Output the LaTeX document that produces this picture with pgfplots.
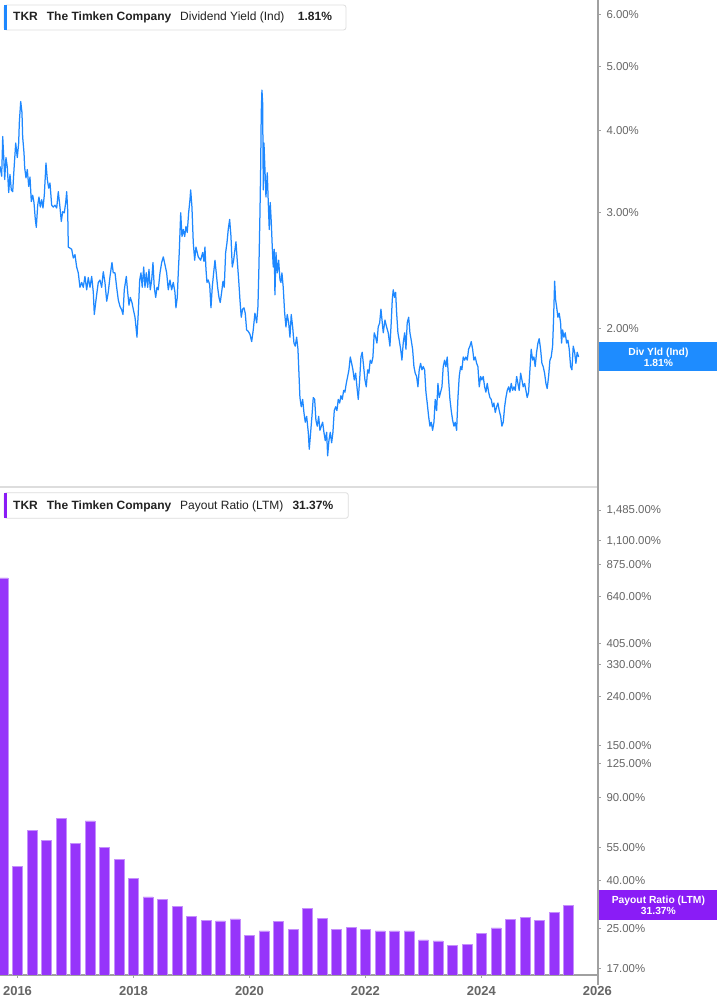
\documentclass[border=0pt]{standalone}
\usepackage{pgfplots}
\usepackage{pgfplotstable}
\pgfplotsset{compat=1.18}
\usepackage{fontspec}
\setmainfont{Liberation Sans}
\definecolor{lineblue}{HTML}{1E88FF}
\definecolor{boxblue}{HTML}{1E8CFF}
\definecolor{barpurple}{HTML}{9634FA}
\definecolor{boxpurple}{HTML}{8A1CF6}
\definecolor{axgray}{HTML}{A0A0A0}
\definecolor{tickgray}{HTML}{666666}
\definecolor{sepgray}{HTML}{DDDDDD}
\definecolor{hdrtext}{HTML}{222222}

\pgfplotstableread{
x y
2015.698 3.53
2015.727 3.41
2015.745 3.92
2015.767 3.57
2015.779 3.37
2015.801 3.64
2015.824 3.52
2015.848 3.22
2015.870 3.43
2015.893 3.25
2015.917 3.23
2015.939 3.49
2015.969 3.83
2015.996 3.64
2016.020 3.83
2016.031 4.11
2016.055 4.43
2016.077 4.26
2016.089 3.91
2016.112 3.70
2016.124 3.51
2016.146 3.39
2016.169 3.49
2016.193 3.29
2016.215 3.40
2016.238 3.12
2016.262 3.19
2016.284 3.11
2016.307 2.93
2016.324 2.85
2016.348 3.08
2016.370 3.17
2016.393 3.06
2016.417 3.14
2016.439 3.05
2016.462 3.19
2016.491 3.57
2016.514 3.37
2016.538 3.27
2016.560 3.33
2016.589 3.08
2016.617 3.06
2016.646 3.08
2016.676 3.05
2016.703 3.23
2016.732 3.06
2016.755 2.91
2016.779 3.01
2016.807 3.00
2016.831 3.11
2016.848 3.23
2016.865 3.03
2016.876 2.66
2016.905 2.65
2016.934 2.64
2016.962 2.56
2016.991 2.59
2017.020 2.48
2017.048 2.43
2017.077 2.31
2017.107 2.35
2017.134 2.31
2017.163 2.40
2017.193 2.29
2017.220 2.39
2017.250 2.31
2017.279 2.40
2017.307 2.27
2017.324 2.10
2017.348 2.19
2017.370 2.27
2017.393 2.35
2017.422 2.37
2017.451 2.31
2017.479 2.44
2017.508 2.35
2017.538 2.20
2017.565 2.27
2017.595 2.40
2017.629 2.52
2017.651 2.43
2017.681 2.43
2017.710 2.31
2017.738 2.21
2017.767 2.16
2017.796 2.135
2017.819 2.10
2017.841 2.29
2017.876 2.40
2017.900 2.27
2017.922 2.17
2017.945 2.23
2017.974 2.19
2017.996 2.14
2018.026 2.08
2018.043 2.01
2018.060 1.94
2018.082 2.11
2018.107 2.37
2018.129 2.43
2018.151 2.31
2018.176 2.48
2018.198 2.31
2018.220 2.43
2018.245 2.31
2018.267 2.46
2018.289 2.29
2018.314 2.37
2018.336 2.52
2018.358 2.31
2018.383 2.23
2018.405 2.31
2018.427 2.29
2018.457 2.43
2018.486 2.52
2018.514 2.57
2018.543 2.50
2018.572 2.43
2018.600 2.29
2018.629 2.37
2018.658 2.29
2018.686 2.35
2018.715 2.27
2018.732 2.15
2018.755 2.23
2018.772 2.43
2018.789 2.61
2018.814 3.00
2018.836 2.76
2018.858 2.83
2018.883 2.76
2018.905 2.86
2018.927 2.80
2018.951 3.00
2018.974 3.14
2018.986 3.25
2019.008 3.06
2019.031 2.70
2019.055 2.54
2019.077 2.66
2019.117 2.57
2019.158 2.54
2019.193 2.61
2019.215 2.53
2019.232 2.66
2019.250 2.46
2019.267 2.35
2019.289 2.37
2019.314 2.33
2019.336 2.15
2019.358 2.31
2019.382 2.43
2019.405 2.54
2019.427 2.43
2019.451 2.31
2019.474 2.23
2019.496 2.19
2019.520 2.27
2019.543 2.36
2019.565 2.31
2019.589 2.61
2019.612 2.70
2019.634 2.83
2019.658 2.93
2019.681 2.76
2019.703 2.48
2019.727 2.54
2019.750 2.64
2019.767 2.71
2019.789 2.54
2019.814 2.37
2019.836 2.21
2019.858 2.08
2019.882 2.14
2019.905 2.15
2019.927 2.11
2019.951 1.99
2019.979 1.98
2020.008 1.96
2020.038 1.91
2020.065 1.99
2020.094 2.11
2020.124 2.04
2020.146 2.16
2020.163 2.48
2020.181 3.00
2020.193 3.52
2020.203 4.26
2020.215 4.61
2020.227 4.41
2020.238 3.25
2020.250 3.83
2020.267 3.49
2020.284 3.17
2020.307 3.45
2020.324 3.11
2020.341 2.83
2020.358 3.11
2020.376 2.90
2020.393 2.66
2020.410 2.48
2020.427 2.64
2020.439 2.25
2020.457 2.61
2020.479 2.43
2020.503 2.54
2020.526 2.37
2020.543 2.35
2020.560 2.43
2020.582 2.31
2020.607 2.11
2020.629 2.01
2020.651 2.10
2020.676 2.04
2020.698 1.94
2020.720 2.10
2020.745 2.01
2020.767 1.90
2020.789 1.88
2020.813 1.94
2020.836 1.86
2020.853 1.71
2020.870 1.57
2020.893 1.52
2020.917 1.56
2020.939 1.49
2020.962 1.44
2020.986 1.47
2021.014 1.39
2021.031 1.31
2021.055 1.39
2021.077 1.47
2021.100 1.57
2021.124 1.56
2021.146 1.45
2021.169 1.42
2021.193 1.47
2021.215 1.40
2021.238 1.42
2021.262 1.44
2021.284 1.39
2021.307 1.35
2021.331 1.39
2021.348 1.28
2021.370 1.35
2021.393 1.39
2021.417 1.34
2021.439 1.39
2021.462 1.50
2021.486 1.52
2021.508 1.50
2021.531 1.56
2021.555 1.54
2021.577 1.58
2021.600 1.56
2021.624 1.61
2021.646 1.60
2021.669 1.65
2021.693 1.69
2021.715 1.73
2021.738 1.81
2021.762 1.77
2021.784 1.73
2021.807 1.67
2021.831 1.71
2021.853 1.63
2021.876 1.56
2021.900 1.67
2021.922 1.81
2021.944 1.84
2021.969 1.75
2021.991 1.67
2022.014 1.63
2022.038 1.73
2022.060 1.71
2022.082 1.79
2022.107 1.77
2022.129 1.81
2022.151 1.97
2022.176 1.94
2022.198 1.90
2022.220 2.01
2022.245 2.04
2022.267 2.14
2022.307 1.97
2022.336 2.06
2022.365 2.01
2022.393 1.97
2022.422 1.88
2022.444 2.04
2022.462 2.21
2022.479 2.29
2022.503 2.23
2022.520 2.27
2022.538 2.11
2022.560 1.97
2022.582 1.92
2022.607 1.86
2022.629 1.79
2022.651 1.90
2022.676 1.97
2022.698 1.86
2022.720 2.04
2022.745 2.08
2022.767 1.97
2022.789 1.92
2022.813 1.86
2022.836 1.75
2022.858 1.71
2022.882 1.69
2022.905 1.63
2022.927 1.73
2022.951 1.77
2022.974 1.73
2022.996 1.75
2023.020 1.73
2023.043 1.60
2023.065 1.54
2023.089 1.47
2023.112 1.42
2023.134 1.44
2023.158 1.40
2023.181 1.44
2023.203 1.56
2023.227 1.50
2023.250 1.65
2023.272 1.57
2023.296 1.60
2023.319 1.63
2023.341 1.75
2023.365 1.79
2023.387 1.75
2023.410 1.81
2023.434 1.67
2023.457 1.56
2023.479 1.50
2023.503 1.45
2023.526 1.42
2023.548 1.44
2023.572 1.40
2023.595 1.57
2023.617 1.69
2023.641 1.75
2023.663 1.73
2023.686 1.81
2023.710 1.79
2023.732 1.81
2023.755 1.79
2023.779 1.86
2023.801 1.88
2023.824 1.91
2023.848 1.86
2023.870 1.79
2023.893 1.81
2023.917 1.77
2023.939 1.75
2023.962 1.63
2023.986 1.69
2024.008 1.67
2024.031 1.69
2024.055 1.63
2024.077 1.60
2024.100 1.65
2024.124 1.60
2024.146 1.57
2024.169 1.56
2024.193 1.52
2024.215 1.54
2024.238 1.49
2024.262 1.52
2024.284 1.54
2024.307 1.50
2024.331 1.47
2024.353 1.42
2024.376 1.44
2024.400 1.52
2024.422 1.57
2024.445 1.61
2024.469 1.63
2024.491 1.60
2024.514 1.65
2024.538 1.61
2024.560 1.63
2024.583 1.61
2024.607 1.69
2024.629 1.65
2024.651 1.61
2024.676 1.71
2024.698 1.67
2024.720 1.63
2024.745 1.65
2024.767 1.61
2024.789 1.57
2024.813 1.60
2024.836 1.73
2024.858 1.86
2024.882 1.79
2024.905 1.81
2024.927 1.75
2024.951 1.84
2024.974 1.90
2024.996 1.93
2025.020 1.86
2025.043 1.77
2025.065 1.75
2025.089 1.71
2025.112 1.65
2025.134 1.62
2025.158 1.69
2025.181 1.79
2025.203 1.81
2025.227 1.88
2025.245 2.08
2025.262 2.36
2025.279 2.21
2025.296 2.16
2025.319 2.08
2025.341 2.11
2025.365 2.04
2025.382 1.90
2025.400 1.99
2025.422 1.94
2025.445 1.97
2025.469 1.90
2025.491 1.92
2025.514 1.86
2025.538 1.75
2025.560 1.73
2025.583 1.88
2025.607 1.84
2025.629 1.77
2025.651 1.84
2025.676 1.81
}\divyield

\pgfplotstableread{
x y
2015.75 766
2016.00 46.0
2016.25 65.5
2016.50 59.0
2016.75 73.4
2017.00 57.7
2017.25 71.6
2017.50 55.2
2017.75 49.3
2018.00 40.8
2018.25 34.1
2018.50 33.3
2018.75 31.2
2019.00 28.2
2019.25 27.2
2019.50 27.0
2019.75 27.5
2020.00 23.4
2020.25 24.5
2020.50 26.8
2020.75 24.9
2021.00 30.5
2021.25 27.7
2021.50 24.9
2021.75 25.4
2022.00 24.9
2022.25 24.5
2022.50 24.5
2022.75 24.5
2023.00 22.4
2023.25 22.2
2023.50 21.3
2023.75 21.5
2024.00 23.8
2024.25 25.2
2024.50 27.4
2024.75 28.0
2025.00 27.1
2025.25 29.4
2025.50 31.37
}\payout

\begin{document}
\begin{tikzpicture}
\path[use as bounding box, fill=white] (0pt,0pt) rectangle (717pt,1005pt);

% separator and axis lines
\draw[sepgray, line width=2pt] (0pt,518pt) -- (598pt,518pt);
\draw[axgray, line width=1.5pt] (0pt,30pt) -- (598pt,30pt);
\draw[axgray, line width=1.3pt] (598pt,20pt) -- (598pt,1005pt);

% ---------- top panel ----------
\begin{axis}[
  at={(0pt,518pt)}, anchor=south west, scale only axis,
  width=598pt, height=487pt,
  xmin=2015.698, xmax=2026.01,
  ymode=log, ymin=1.1476, ymax=6.322,
  axis line style={draw=none},
  xtick=\empty, xmajorticks=false,
  ytick={2,3,4,5,6},
  yticklabels={2.00\%,3.00\%,4.00\%,5.00\%,6.00\%},
  yminorticks=false,
  ytick pos=right, tick align=outside,
  major tick length=3pt,
  ytick style={axgray, line width=1pt},
  yticklabel style={font=\fontsize{11.4}{13}\selectfont, text=tickgray, anchor=west, xshift=2pt},
]
\addplot[lineblue, line width=1.25pt, line join=round] table[x=x,y=y] {\divyield};
\coordinate (dy) at (axis cs:2026.01,1.81);
\end{axis}

% ---------- bottom panel ----------
\begin{axis}[
  at={(0pt,30pt)}, anchor=south west, scale only axis,
  width=598pt, height=485pt,
  xmin=2015.698, xmax=2026.01,
  ymode=log, ymin=15.92, ymax=1807,
  log origin y=infty,
  ybar, bar width=9.8pt,
  axis line style={draw=none},
  xtick={2016,2018,2020,2022,2024,2026},
  xticklabels={2016,2018,2020,2022,2024,2026},
  xtick pos=bottom,
  ytick={17,25,40,55,90,125,150,240,330,405,640,875,1100,1485},
  yticklabels={17.00\%,25.00\%,40.00\%,55.00\%,90.00\%,125.00\%,150.00\%,240.00\%,330.00\%,405.00\%,640.00\%,875.00\%,{1,100.00\%},{1,485.00\%}},
  yminorticks=false, xminorticks=false,
  ytick pos=right, tick align=outside,
  major tick length=3pt,
  ytick style={axgray, line width=1pt},
  xtick style={axgray, line width=1pt},
  yticklabel style={font=\fontsize{11.4}{13}\selectfont, text=tickgray, anchor=west, xshift=2pt},
  xticklabel style={font=\bfseries\fontsize{13}{15}\selectfont, text=tickgray, yshift=-5pt},
]
\addplot[fill=barpurple, draw=barpurple!55!white, line width=0.6pt] table[x=x,y=y] {\payout};
\coordinate (pr) at (axis cs:2026.01,31.37);
\end{axis}

% value boxes on the right
\node[fill=boxblue, text=white, anchor=west, minimum width=119pt, minimum height=29pt,
      inner sep=0pt, align=center, font=\bfseries\fontsize{10.3}{11}\selectfont] at ([xshift=0.7pt]dy) {Div Yld (Ind)\\1.81\%};
\node[fill=boxpurple, text=white, anchor=west, minimum width=119pt, minimum height=30pt,
      inner sep=0pt, align=center, font=\bfseries\fontsize{10.3}{11}\selectfont] at ([xshift=0.7pt]pr) {Payout Ratio (LTM)\\31.37\%};

% headers
\draw[sepgray, fill=white, rounded corners=2.5pt, line width=0.8pt] (4pt,975pt) rectangle (346pt,1000pt);
\fill[lineblue] (4pt,975.4pt) rectangle (6.8pt,999.6pt);
\begin{scope}[every node/.style={anchor=base west, inner sep=0pt, text=hdrtext, font=\fontsize{12}{14}\selectfont}]
\node at (13pt,984pt) {\bfseries TKR};
\node at (46.7pt,984pt) {\bfseries The Timken Company};
\node at (180pt,984pt) {Dividend Yield (Ind)};
\node at (297.7pt,984pt) {\bfseries 1.81\%};
\end{scope}

\draw[sepgray, fill=white, rounded corners=2.5pt, line width=0.8pt] (4pt,486.7pt) rectangle (348.3pt,512.3pt);
\fill[boxpurple] (4pt,487.1pt) rectangle (6.8pt,511.9pt);
\begin{scope}[every node/.style={anchor=base west, inner sep=0pt, text=hdrtext, font=\fontsize{12}{14}\selectfont}]
\node at (13pt,495.7pt) {\bfseries TKR};
\node at (46.7pt,495.7pt) {\bfseries The Timken Company};
\node at (180pt,495.7pt) {Payout Ratio (LTM)};
\node at (292.3pt,495.7pt) {\bfseries 31.37\%};
\end{scope}
\end{tikzpicture}
\end{document}
